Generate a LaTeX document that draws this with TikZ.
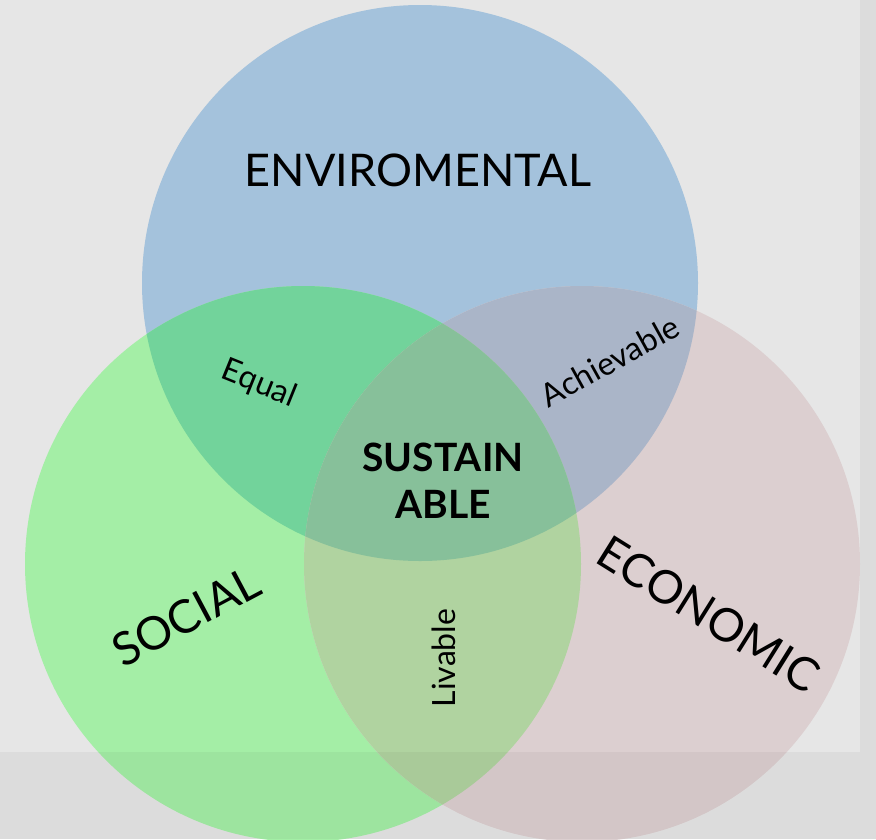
\documentclass[tikz,border=0pt]{standalone}
\usepackage{fontspec}
\setmainfont{Lato}
\definecolor{bg}{HTML}{E6E6E6}
\definecolor{cblue}{HTML}{A4C2DC}
\definecolor{cgreen}{HTML}{A4EEA6}
\definecolor{cbrown}{HTML}{DCCFD0}
\definecolor{cbg}{HTML}{72D39B}
\definecolor{cbb}{HTML}{AAB5C8}
\definecolor{cgb}{HTML}{B0D3A0}
\definecolor{call}{HTML}{87C09A}
\tikzset{
  big/.style={font=\fontsize{46}{50}\selectfont, inner sep=0pt},
  small/.style={font=\fontsize{32}{34}\selectfont, inner sep=0pt},
}
\begin{document}
\begin{tikzpicture}[x=1pt,y=-1pt]
\useasboundingbox (0,0) rectangle (876,839);
\fill[bg] (0,0) rectangle (876,839);
\def\R{278}
\coordinate (E) at (420,283);
\coordinate (S) at (303,564);
\coordinate (C) at (582,564);
\fill[cblue] (E) circle (\R);
\fill[cgreen] (S) circle (\R);
\fill[cbrown] (C) circle (\R);
\begin{scope}
  \clip (E) circle (\R);
  \fill[cbg] (S) circle (\R);
  \fill[cbb] (C) circle (\R);
\end{scope}
\begin{scope}
  \clip (S) circle (\R);
  \fill[cgb] (C) circle (\R);
  \clip (C) circle (\R);
  \fill[call] (E) circle (\R);
\end{scope}
\fill[black, opacity=0.04] (0,752) rectangle (876,839);
\fill[black, opacity=0.04] (860,0) rectangle (876,752);
\node[font=\fontsize{45}{50}\selectfont, inner sep=0pt] (env) at (418,170) {ENVIROMENTAL};
\node[big, rotate=28] (soc) at (186,616) {SOCIAL};
\node[big, rotate=-32] (eco) at (709,614) {ECONOMIC};
\node[small, rotate=-22] (eq) at (259,384) {Equal};
\node[small, rotate=29] (ach) at (610,361) {Achievable};
\node[small, rotate=90] (liv) at (444,658) {Livable};
\node[font=\fontsize{39}{47}\selectfont\bfseries, align=center, inner sep=0pt] (sus) at (443,481) {SUSTAIN\\ABLE};
\end{tikzpicture}
\end{document}
